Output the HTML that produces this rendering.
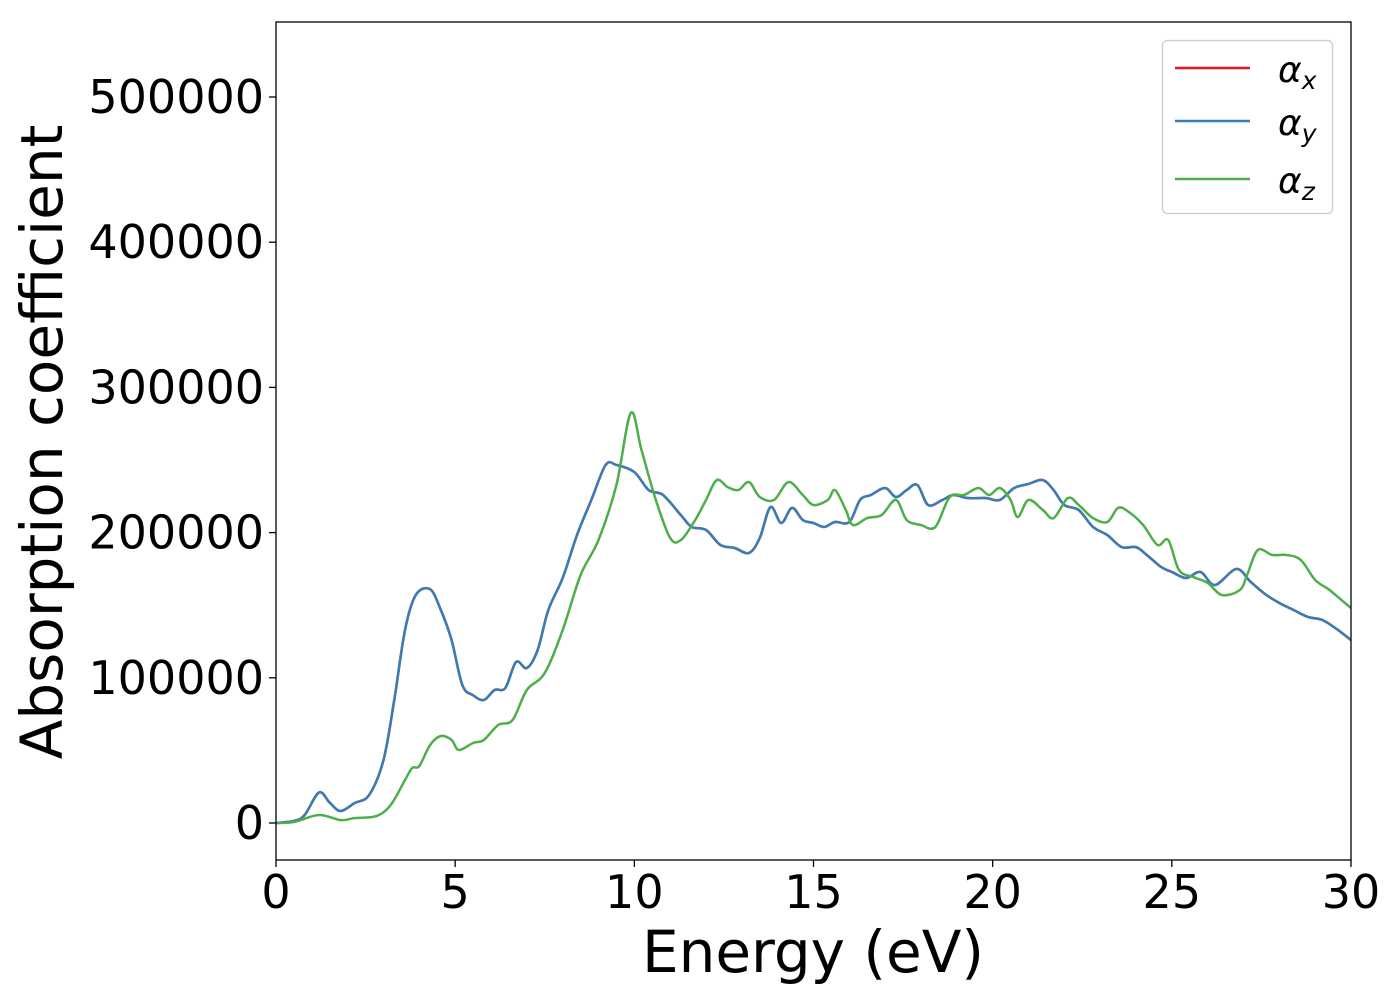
<!DOCTYPE html>
<html><head><meta charset="utf-8"><style>
body{margin:0;background:#fff}
svg text{font-family:"DejaVu Sans","Liberation Sans",sans-serif;fill:#000}
</style></head><body>
<svg id="chart" width="1400" height="1000">
<rect x="0" y="0" width="1400" height="1000" fill="#fff"/>
<g id="plot"></g>
<rect x="276" y="22" width="1075" height="838" fill="none" stroke="#000" stroke-width="1.3"/>
<g id="axes"></g>
<text x="813" y="972" font-size="58" text-anchor="middle">Energy (eV)</text>
<text transform="translate(62,442) rotate(-90)" font-size="58" text-anchor="middle">Absorption coefficient</text>
<g>
<rect x="1162.5" y="40.5" width="170" height="173" rx="5" fill="#fff" stroke="#ccc" stroke-width="1.3"/>
<g><line x1="1175" y1="68" x2="1250" y2="68" stroke="#e41a1c" stroke-width="2.5"/><text x="1278" y="82" font-size="36" font-style="italic">α<tspan font-size="25" dy="7">x</tspan></text></g>
<g><line x1="1175" y1="121" x2="1250" y2="121" stroke="#377eb8" stroke-width="2.5"/><text x="1278" y="135" font-size="36" font-style="italic">α<tspan font-size="25" dy="7">y</tspan></text></g>
<g><line x1="1175" y1="179" x2="1250" y2="179" stroke="#4daf4a" stroke-width="2.5"/><text x="1278" y="193" font-size="36" font-style="italic">α<tspan font-size="25" dy="7">z</tspan></text></g>
</g>
</svg>
<script>
const xyEnergy=[0,0.5,0.8,1.2,1.5,1.8,2.2,2.6,3.0,3.3,3.6,3.9,4.3,4.6,4.9,5.2,5.5,5.8,6.1,6.4,6.7,7.0,7.3,7.6,8.0,8.4,8.8,9.2,9.5,10.0,10.4,10.8,11.3,11.6,12.0,12.4,12.8,13.2,13.5,13.8,14.1,14.4,14.7,15.0,15.3,15.6,16.0,16.3,16.6,17.0,17.3,17.6,17.9,18.2,18.6,18.9,19.3,19.8,20.2,20.6,21.0,21.4,21.7,22.0,22.4,22.8,23.2,23.6,24.0,24.3,24.7,25.0,25.4,25.8,26.2,26.8,27.2,27.6,28.0,28.4,28.8,29.2,29.6,30.0];
const alphaXY=[0,1.4,5.5,21,14,8.3,13.8,19.3,43.4,84.7,132.9,157,161,146.7,126,95,88,84.7,91.6,93,110.9,106.7,119,146.7,168.7,198.3,222.5,246.6,246.6,241.7,229.3,225.9,212,203.9,201.8,191.5,189.4,186,196.3,217.6,206.6,217,208.7,206.6,203.9,207.3,207.3,222.5,225.9,230.7,224.5,229.3,232.8,219,222.5,225.9,223.8,223.8,222.5,230.7,233.5,236.2,229.3,219,215.6,203.9,198.3,190,190,184.6,176.3,172.9,168.7,172.9,163.9,174.9,166,157.7,151.5,146.7,141.9,139.8,133.6,126];
const zEnergy=[0,0.5,1.2,1.8,2.2,2.8,3.2,3.6,3.8,4.0,4.3,4.6,4.9,5.1,5.5,5.8,6.2,6.6,7.0,7.5,8.0,8.5,9.0,9.5,9.9,10.2,10.6,11.0,11.3,11.7,12.0,12.3,12.6,12.9,13.2,13.5,13.9,14.3,14.7,15.0,15.4,15.6,15.9,16.1,16.5,16.9,17.3,17.6,18.0,18.4,18.8,19.2,19.6,19.9,20.2,20.5,20.7,21.0,21.4,21.7,22.1,22.4,22.8,23.2,23.5,23.8,24.2,24.6,24.9,25.2,25.6,26.0,26.4,26.9,27.1,27.4,27.8,28.2,28.6,29.0,29.4,29.8,30.0];
const alphaZ=[0,0.7,5.5,2,3.4,4.8,12.4,29.6,37.9,39.3,53.7,59.9,57.2,50.3,55.1,57.2,67.5,70.9,91.6,103.3,132.9,170.8,194.9,232.8,282.4,256.9,222.5,196.3,194.9,208.7,222.5,236.2,231.4,229.3,234.8,224.5,222.5,234.8,225.9,219,222.5,229.3,215.6,205.2,210,212.1,222.5,208.7,205.2,203.9,224.5,225.9,230.7,225.9,230.7,222.5,210.7,222.5,215.6,210,223.8,219,210,207.3,217,214.2,205.2,191.5,194.9,174.2,169.4,165.3,157,160.5,170.8,188,184.6,184.6,181.1,167.4,160.5,152.2,148];
const xTicks=[0,5,10,15,20,25,30];
const yTicks=[0,100000,200000,300000,400000,500000];
const X=e=>276+(e-0)*(1351-276)/30;
const Y=v=>823-v/100000*145.2;
const NS="http://www.w3.org/2000/svg";
function path(xs,ys,scale,color,name){
  const p=xs.map((e,i)=>[X(e),Y(ys[i]*scale)]);
  let d="M"+p[0][0]+","+p[0][1];
  for(let i=0;i<p.length-1;i++){
    const p0=p[Math.max(0,i-1)],p1=p[i],p2=p[i+1],p3=p[Math.min(p.length-1,i+2)];
    d+=" C"+(p1[0]+(p2[0]-p0[0])/6)+","+(p1[1]+(p2[1]-p0[1])/6)+" "+(p2[0]-(p3[0]-p1[0])/6)+","+(p2[1]-(p3[1]-p1[1])/6)+" "+p2[0]+","+p2[1];
  }
  const el=document.createElementNS(NS,"path");
  el.setAttribute("d",d);el.setAttribute("fill","none");el.setAttribute("stroke",color);el.setAttribute("stroke-width","2.5");
  
  
  document.getElementById("plot").appendChild(el);
}
const cp=document.createElementNS(NS,"clipPath");cp.id="c";cp.innerHTML='<rect x="276" y="22" width="1075" height="838"/>';
document.getElementById("chart").appendChild(cp);
document.getElementById("plot").setAttribute("clip-path","url(#c)");
path(xyEnergy,alphaXY,1000,"#e41a1c","line-alpha-x");
path(xyEnergy,alphaXY,1000,"#377eb8","line-alpha-y");
path(zEnergy,alphaZ,1000,"#4daf4a","line-alpha-z");
const ax=document.getElementById("axes");
xTicks.forEach(t=>{
  const l=document.createElementNS(NS,"line");l.setAttribute("x1",X(t));l.setAttribute("x2",X(t));l.setAttribute("y1",860);l.setAttribute("y2",867);l.setAttribute("stroke","#000");l.setAttribute("stroke-width","1.3");
  
  
  ax.appendChild(l);
  const tx=document.createElementNS(NS,"text");tx.setAttribute("x",X(t));tx.setAttribute("y",908);tx.setAttribute("font-size","46");tx.setAttribute("text-anchor","middle");tx.textContent=t;
  
  
  ax.appendChild(tx);
});
yTicks.forEach(t=>{
  const l=document.createElementNS(NS,"line");l.setAttribute("x1",269);l.setAttribute("x2",276);l.setAttribute("y1",Y(t));l.setAttribute("y2",Y(t));l.setAttribute("stroke","#000");l.setAttribute("stroke-width","1.3");
  
  
  ax.appendChild(l);
  const tx=document.createElementNS(NS,"text");tx.setAttribute("x",264);tx.setAttribute("y",Y(t)+16);tx.setAttribute("font-size","46");tx.setAttribute("text-anchor","end");tx.textContent=t;
  
  
  ax.appendChild(tx);
});
</script>
</body></html>
